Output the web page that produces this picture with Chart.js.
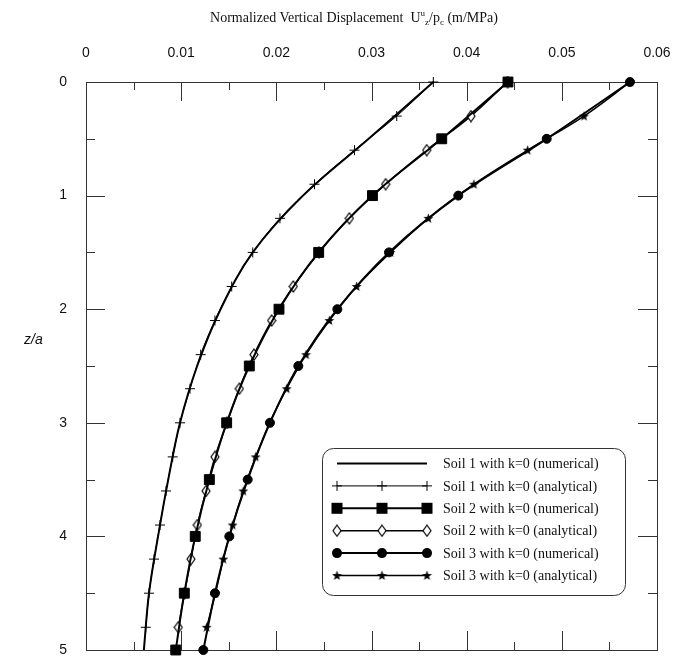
<!DOCTYPE html>
<html>
<head>
<meta charset="utf-8">
<script src="https://cdn.jsdelivr.net/npm/chart.js@4/dist/chart.umd.min.js"></script>
<style>
  html, body { margin: 0; padding: 0; background: #fff; overflow: hidden; }
  #wrap { position: relative; width: 683px; height: 658px; }
  #title { position: absolute; left: 25px; top: 8px; width: 658px; text-align: center;
           font-family: "Liberation Serif", "DejaVu Serif", serif; font-size: 14px; color: #111; white-space: nowrap; }
  #title sup, #title sub { font-size: 9px; }
  #ylab { position: absolute; left: 24px; top: 331px; font-family: "Liberation Sans", Arial, sans-serif;
          font-style: italic; font-size: 14px; color: #111; }
  canvas { position: absolute; left: 0; top: 0; }
</style>
</head>
<body>
<div id="wrap">
  <canvas id="c" width="683" height="658"></canvas>
  <div id="title">Normalized Vertical Displacement&nbsp; U<sup>u</sup><sub>z</sub>/p<sub>c</sub> (m/MPa)</div>
  <div id="ylab">z/a</div>
</div>
<script>
// ---- data ----
const depthNumerical = [0, 0.5, 1, 1.5, 2, 2.5, 3, 3.5, 4, 4.5, 5];
const depthAnalytical = [0, 0.3, 0.6, 0.9, 1.2, 1.5, 1.8, 2.1, 2.4, 2.7, 3.0, 3.3, 3.6, 3.9, 4.2, 4.5, 4.8];

const soil1Numerical = [0.0365, 0.0297, 0.0228, 0.01752, 0.01414, 0.01168, 0.00988, 0.00864, 0.00757, 0.00662, 0.00608];
const soil1Analytical = [0.0365, 0.03265, 0.02821, 0.02401, 0.02038, 0.01752, 0.01531, 0.01355, 0.01205, 0.01093, 0.00988, 0.00911, 0.00841, 0.00778, 0.00715, 0.00662, 0.00628];
const soil2Numerical = [0.04434, 0.03738, 0.0301, 0.02445, 0.02028, 0.01716, 0.01478, 0.01296, 0.01148, 0.01033, 0.00943];
const soil2Analytical = [0.0443, 0.04045, 0.0358, 0.03149, 0.02767, 0.02448, 0.02178, 0.01951, 0.01765, 0.01611, 0.01482, 0.01355, 0.01261, 0.0117, 0.01103, 0.01035, 0.0097];
const soil3Numerical = [0.05716, 0.04841, 0.03912, 0.03184, 0.02641, 0.02231, 0.01933, 0.01699, 0.01506, 0.01355, 0.01233];
const soil3Analytical = [0.0572, 0.05233, 0.04641, 0.04077, 0.03597, 0.032, 0.02844, 0.02557, 0.02312, 0.02109, 0.0193, 0.01783, 0.01653, 0.01541, 0.01443, 0.0136, 0.01268];

const xTickLabels = ['0', '0.01', '0.02', '0.03', '0.04', '0.05', '0.06'];
const yTickLabels = ['0', '1', '2', '3', '4', '5'];
const legendLabels = [
  'Soil 1 with k=0 (numerical)',
  'Soil 1 with k=0 (analytical)',
  'Soil 2 with k=0 (numerical)',
  'Soil 2 with k=0 (analytical)',
  'Soil 3 with k=0 (numerical)',
  'Soil 3 with k=0 (analytical)'
];

// ---- marker images ----
function makeStar() {
  const c = document.createElement('canvas'); c.width = 11; c.height = 11;
  const g = c.getContext('2d');
  g.beginPath();
  for (let i = 0; i < 10; i++) {
    const r = i % 2 === 0 ? 5.2 : 2.1;
    const a = -Math.PI / 2 + i * Math.PI / 5;
    const px = 5.5 + r * Math.cos(a), py = 5.8 + r * Math.sin(a);
    if (i === 0) g.moveTo(px, py); else g.lineTo(px, py);
  }
  g.closePath(); g.fillStyle = '#000'; g.fill();
  return c;
}
function makeDiamond() {
  const c = document.createElement('canvas'); c.width = 10; c.height = 13;
  const g = c.getContext('2d');
  g.beginPath(); g.moveTo(5, 1); g.lineTo(9, 6.5); g.lineTo(5, 12); g.lineTo(1, 6.5); g.closePath();
  g.fillStyle = '#fff'; g.fill(); g.lineWidth = 1.2; g.strokeStyle = '#000'; g.stroke();
  return c;
}
const starImg = makeStar();
const diamondImg = makeDiamond();

function pts(xs, ys) { return xs.map((v, i) => ({ x: v, y: ys[i] })); }

const common = { showLine: true, borderColor: '#000', backgroundColor: '#000', tension: 0.35, clip: false, fill: false };

const datasets = [
  Object.assign({}, common, { label: legendLabels[0], data: pts(soil1Numerical, depthNumerical), borderWidth: 2, pointRadius: 0 }),
  Object.assign({}, common, { label: legendLabels[2], data: pts(soil2Numerical, depthNumerical), borderWidth: 2, pointStyle: 'rect', pointRadius: 7, pointBorderWidth: 1 }),
  Object.assign({}, common, { label: legendLabels[4], data: pts(soil3Numerical, depthNumerical), borderWidth: 2, pointStyle: 'circle', pointRadius: 4.5, pointBorderWidth: 1 }),
  Object.assign({}, common, { label: legendLabels[1], data: pts(soil1Analytical, depthAnalytical), borderWidth: 1, pointStyle: 'cross', pointRadius: 5, pointBorderWidth: 1 }),
  Object.assign({}, common, { label: legendLabels[3], data: pts(soil2Analytical, depthAnalytical), borderWidth: 1.5, pointStyle: diamondImg, pointRadius: 5 }),
  Object.assign({}, common, { label: legendLabels[5], data: pts(soil3Analytical, depthAnalytical), borderWidth: 1.5, pointStyle: starImg, pointRadius: 5 })
];

function drawMarker(ctx, type, x, y) {
  ctx.save();
  ctx.fillStyle = '#000'; ctx.strokeStyle = '#000';
  if (type === 'rect') { ctx.fillRect(x - 5.5, y - 5.5, 11, 11); }
  else if (type === 'circle') { ctx.beginPath(); ctx.arc(x, y, 5, 0, Math.PI * 2); ctx.fill(); }
  else if (type === 'cross') { ctx.lineWidth = 1; ctx.beginPath(); ctx.moveTo(x - 5, y); ctx.lineTo(x + 5, y); ctx.moveTo(x, y - 5); ctx.lineTo(x, y + 5); ctx.stroke(); }
  else if (type === 'diamond') { ctx.drawImage(diamondImg, x - 5, y - 6.5); }
  else if (type === 'star') { ctx.drawImage(starImg, x - 5.5, y - 5.5); }
  ctx.restore();
}

const framePlugin = {
  id: 'frame',
  beforeDatasetsDraw(chart) {
    const { ctx, chartArea: a, scales } = chart;
    ctx.save();
    ctx.strokeStyle = '#333'; ctx.lineWidth = 1;
    ctx.strokeRect(a.left + 0.5, a.top + 0.5, a.right - a.left, a.bottom - a.top);
    ctx.beginPath();
    for (let i = 1; i < 12; i++) {
      const v = i * 0.005;
      const px = Math.round(scales.x.getPixelForValue(v)) + 0.5;
      const len = i % 2 === 0 ? 19 : 8;
      ctx.moveTo(px, a.top); ctx.lineTo(px, a.top + len);
      ctx.moveTo(px, a.bottom); ctx.lineTo(px, a.bottom - len);
    }
    for (let i = 1; i < 10; i++) {
      const v = i * 0.5;
      const py = Math.round(scales.y.getPixelForValue(v)) + 0.5;
      const len = i % 2 === 0 ? 19 : 9;
      ctx.moveTo(a.left, py); ctx.lineTo(a.left + len, py);
      ctx.moveTo(a.right, py); ctx.lineTo(a.right - len, py);
    }
    ctx.stroke();
    ctx.restore();
  },
  afterDraw(chart) {
    const ctx = chart.ctx;
    ctx.save();
    // legend box
    ctx.beginPath();
    ctx.roundRect(322.5, 448.5, 303, 147, 11);
    ctx.fillStyle = '#fff'; ctx.fill();
    ctx.strokeStyle = '#333'; ctx.lineWidth = 1; ctx.stroke();
    const markers = [null, 'cross', 'rect', 'diamond', 'circle', 'star'];
    const widths = [2, 1, 2, 1.5, 2, 1.5];
    ctx.font = '14px "Liberation Serif", "DejaVu Serif", serif';
    ctx.textBaseline = 'middle';
    ctx.fillStyle = '#111';
    legendLabels.forEach((lab, i) => {
      const y = 463.5 + i * 22.4;
      ctx.beginPath(); ctx.moveTo(337, y); ctx.lineTo(427, y);
      ctx.lineWidth = widths[i]; ctx.strokeStyle = '#000'; ctx.stroke();
      if (markers[i]) { [337, 382, 427].forEach(x => drawMarker(ctx, markers[i], x, y)); }
      ctx.fillStyle = '#111';
      ctx.fillText(lab, 443, y + 1);
    });
    ctx.restore();
  }
};

new Chart(document.getElementById('c'), {
  type: 'scatter',
  data: { datasets },
  options: {
    responsive: false,
    animation: false,
    events: [],
    layout: { padding: { left: 0, right: 26, top: 0, bottom: 7 } },
    plugins: { legend: { display: false }, tooltip: { enabled: false }, title: { display: false } },
    scales: {
      x: {
        type: 'linear', position: 'top', min: 0, max: 0.06,
        grid: { display: false }, border: { display: false },
        ticks: { stepSize: 0.01, padding: 12, maxRotation: 0, color: '#111',
                 font: { family: '"Liberation Sans", Arial, sans-serif', size: 14 },
                 callback: (v) => { const i = Math.round(v / 0.01); return Math.abs(v - i * 0.01) < 1e-9 ? xTickLabels[i] : null; } },
        afterFit: (s) => { s.height = 82; s.paddingLeft = 0; s.paddingRight = 0; }
      },
      y: {
        type: 'linear', position: 'left', reverse: true, min: 0, max: 5,
        grid: { display: false }, border: { display: false },
        ticks: { stepSize: 1, padding: 11, color: '#111',
                 font: { family: '"Liberation Sans", Arial, sans-serif', size: 14 },
                 callback: (v) => { const i = Math.round(v); return Math.abs(v - i) < 1e-9 ? yTickLabels[i] : null; } },
        afterFit: (s) => { s.width = 86; s.paddingTop = 0; s.paddingBottom = 0; }
      }
    }
  },
  plugins: [framePlugin]
});
</script>
</body>
</html>
